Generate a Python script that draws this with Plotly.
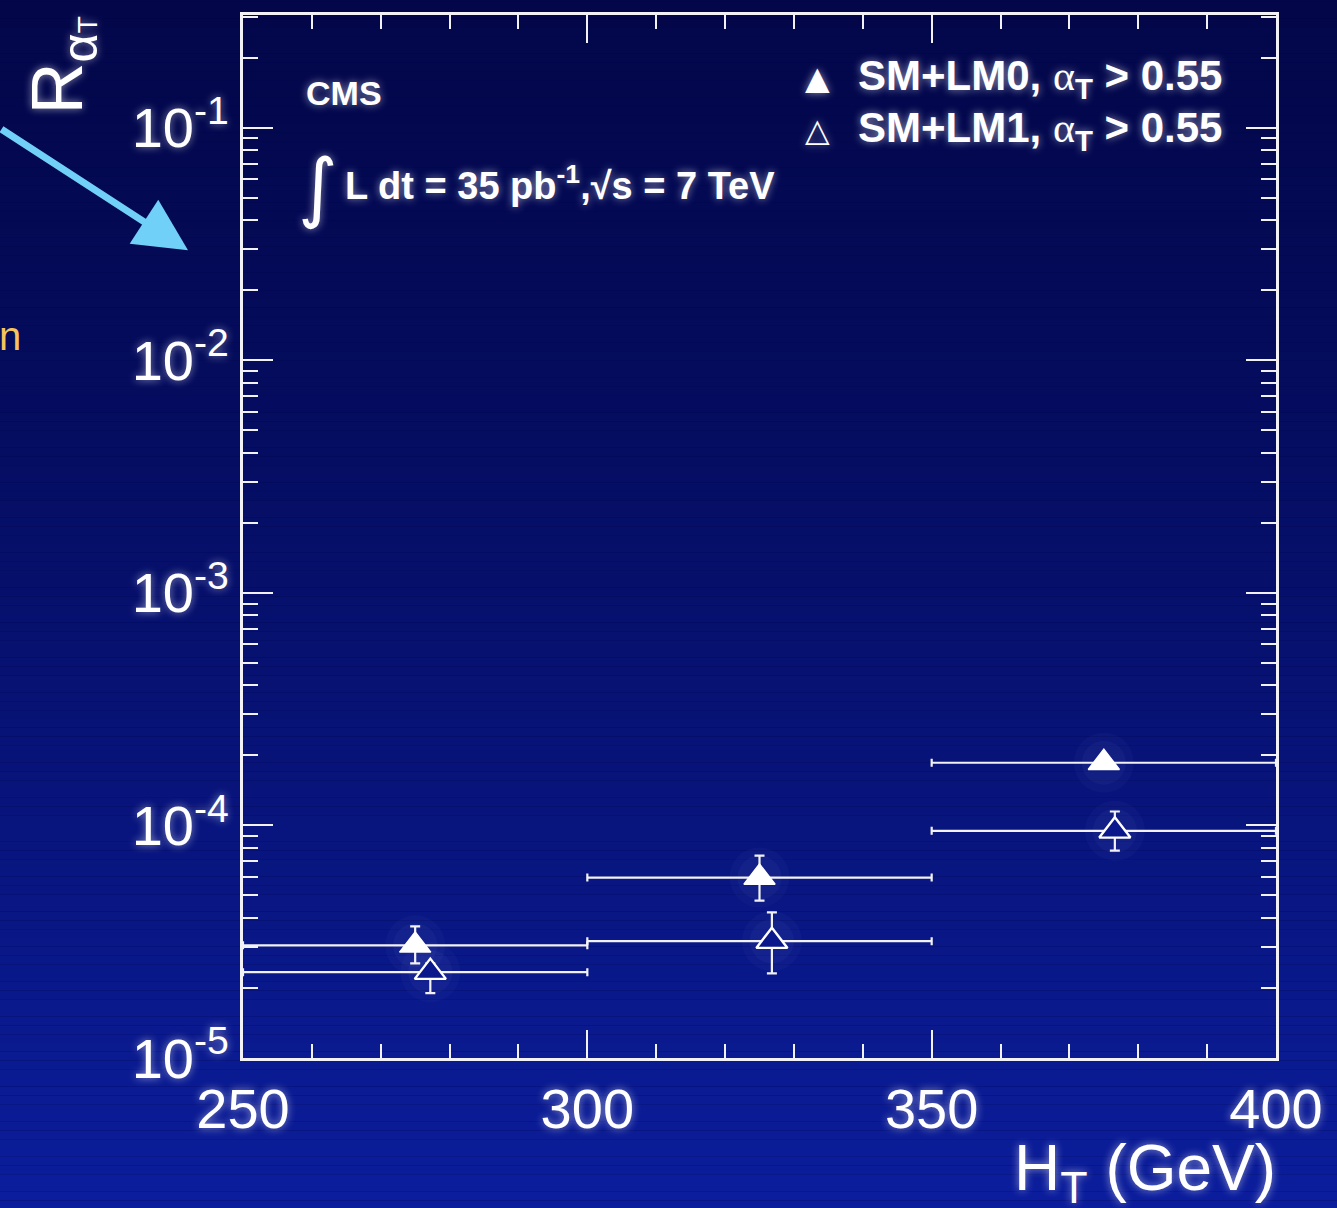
import numpy as np
import plotly.graph_objects as go

# H_T bins (GeV)
bin_lo = [250, 300, 350]
bin_hi = [300, 350, 400]

# SM+LM0, alpha_T > 0.55
lm0_x = [275.0, 325.0, 375.0]
lm0_y = [3.05e-5, 5.97e-5, 1.86e-4]
lm0_err_up = [0.63e-5, 1.44e-5, 0.10e-4]
lm0_err_dn = [0.50e-5, 1.22e-5, 0.10e-4]

# SM+LM1, alpha_T > 0.55 (drawn slightly shifted right)
lm1_x = [277.2, 326.8, 376.6]
lm1_y = [2.34e-5, 3.18e-5, 9.48e-5]
lm1_err_up = [0.21e-5, 1.05e-5, 2.00e-5]
lm1_err_dn = [0.44e-5, 0.87e-5, 1.68e-5]

y_tickvals = [1e-5, 1e-4, 1e-3, 1e-2, 1e-1]
y_ticktext = ["10<sup>-5</sup>", "10<sup>-4</sup>", "10<sup>-3</sup>",
              "10<sup>-2</sup>", "10<sup>-1</sup>"]
x_tickvals = [250, 300, 350, 400]
x_ticktext = ["250", "300", "350", "400"]

W, H = 1337, 1208
L, R, T, B = 243, 61, 12, 150
PW, PH = W - L - R, H - T - B

FONT = "Liberation Sans, Arial, Helvetica, sans-serif"
GLOW = "0px 0px 9px rgba(255,255,255,0.55)"
WHITE = "#f2f2f6"


def px(xp):
    return (xp - L) / PW


def py(yp):
    return (H - B - yp) / PH


def bin_err(xs):
    plus = [hi - x for x, hi in zip(xs, bin_hi)]
    minus = [x - lo for x, lo in zip(xs, bin_lo)]
    return plus, minus


fig = go.Figure()

# soft halo behind the points
for xs, ys in ((lm0_x, lm0_y), (lm1_x, lm1_y)):
    for size, alpha in ((60, 0.03), (44, 0.04)):
        fig.add_trace(go.Scatter(
            x=xs, y=ys, mode="markers", hoverinfo="skip", showlegend=False,
            marker=dict(size=size, color="rgba(190,200,255,%.2f)" % alpha,
                        line=dict(width=0)),
        ))

p0, m0 = bin_err(lm0_x)
fig.add_trace(go.Scatter(
    x=lm0_x, y=lm0_y, mode="markers", name="SM+LM0, α_T > 0.55", showlegend=False,
    marker=dict(symbol="triangle-up", size=27, color="white",
                line=dict(width=1.5, color="white")),
    error_x=dict(type="data", symmetric=False, array=p0, arrayminus=m0,
                 color=WHITE, thickness=2.2, width=4),
    error_y=dict(type="data", symmetric=False, array=lm0_err_up, arrayminus=lm0_err_dn,
                 color=WHITE, thickness=2.2, width=5),
))

p1, m1 = bin_err(lm1_x)
fig.add_trace(go.Scatter(
    x=lm1_x, y=lm1_y, mode="markers", name="SM+LM1, α_T > 0.55", showlegend=False,
    marker=dict(symbol="triangle-up", size=27, color="#0a188c",
                line=dict(width=2.4, color="white")),
    error_x=dict(type="data", symmetric=False, array=p1, arrayminus=m1,
                 color=WHITE, thickness=2.2, width=4),
    error_y=dict(type="data", symmetric=False, array=lm1_err_up, arrayminus=lm1_err_dn,
                 color=WHITE, thickness=2.2, width=5),
))

# vertical background gradient of the slide
shapes = []
n_bands = 140
top_c = np.array([3, 7, 74])
bot_c = np.array([12, 30, 158])
y_top, y_bot = py(0) + 0.01, py(H) - 0.01
for i in range(n_bands):
    t0 = i / n_bands
    t1 = (i + 1) / n_bands
    tm = ((t0 + t1) / 2) ** 1.25
    c = top_c + (bot_c - top_c) * tm
    shapes.append(dict(
        type="rect", xref="paper", yref="paper", layer="below",
        x0=-0.5, x1=1.5,
        y0=y_top + (y_bot - y_top) * t1, y1=y_top + (y_bot - y_top) * t0,
        fillcolor="rgb(%d,%d,%d)" % tuple(c.astype(int)), line=dict(width=0),
    ))

minor_y = [m * 10.0 ** k for k in range(-5, 0) for m in range(2, 10)]

annotations = [
    # y-axis title
    dict(text="R<sub>α<span style='font-size:28px'>T</span></sub>",
         xref="paper", yref="paper", x=px(14), y=py(12), textangle=-90,
         showarrow=False, font=dict(family=FONT, size=72, color="white", shadow=GLOW)),
    # x-axis title
    dict(text="H<sub>T</sub> (GeV)", xref="paper", yref="paper",
         x=px(1278), y=py(1172), xanchor="right", yanchor="middle", showarrow=False,
         font=dict(family=FONT, size=64, color="white", shadow=GLOW)),
    # experiment label
    dict(text="<b>CMS</b>", xref="paper", yref="paper", x=px(304), y=py(90),
         xanchor="left", yanchor="middle", showarrow=False,
         font=dict(family=FONT, size=34, color="white", shadow=GLOW)),
    dict(text="∫", xref="paper", yref="paper", x=px(296), y=py(184),
         xanchor="left", yanchor="middle", showarrow=False,
         font=dict(family="DejaVu Sans, sans-serif", size=76, color="white", shadow=GLOW)),
    dict(text="<b>L dt = 35 pb<sup>-1</sup>,√s = 7 TeV</b>", xref="paper", yref="paper",
         x=px(343), y=py(180), xanchor="left", yanchor="middle", showarrow=False,
         font=dict(family=FONT, size=38, color="white", shadow=GLOW)),
    # legend
    dict(text="▲", xref="paper", yref="paper", x=px(817), y=py(75),
         xanchor="center", yanchor="middle", showarrow=False,
         font=dict(family="DejaVu Sans, sans-serif", size=32, color="white", shadow=GLOW)),
    dict(text="△", xref="paper", yref="paper", x=px(817), y=py(127),
         xanchor="center", yanchor="middle", showarrow=False,
         font=dict(family="DejaVu Sans, sans-serif", size=32, color="white", shadow=GLOW)),
    dict(text="<b>SM+LM0, </b><span style='font-family:Liberation Serif'>α</span>"
              "<sub><b>T</b></sub><b> &gt; 0.55</b>",
         xref="paper", yref="paper", x=px(856), y=py(76), xanchor="left", yanchor="middle",
         showarrow=False, font=dict(family=FONT, size=42, color="white", shadow=GLOW)),
    dict(text="<b>SM+LM1, </b><span style='font-family:Liberation Serif'>α</span>"
              "<sub><b>T</b></sub><b> &gt; 0.55</b>",
         xref="paper", yref="paper", x=px(856), y=py(128), xanchor="left", yanchor="middle",
         showarrow=False, font=dict(family=FONT, size=42, color="white", shadow=GLOW)),
    # slide pointer arrow
    dict(text="", xref="paper", yref="paper", x=px(188), y=py(248),
         ax=-188, ay=-122, axref="pixel", ayref="pixel",
         showarrow=True, arrowhead=2, arrowsize=1.5, arrowwidth=7,
         arrowcolor="#70d0f8", standoff=0),
    dict(text="n", xref="paper", yref="paper", x=px(23), y=py(334),
         xanchor="right", yanchor="middle", showarrow=False,
         font=dict(family="Liberation Sans, sans-serif", size=40, color="#f7c35c")),
    dict(text="8", xref="paper", yref="paper", x=px(1272), y=py(1226),
         xanchor="center", yanchor="middle", showarrow=False,
         font=dict(family=FONT, size=40, color="white")),
]

axis_common = dict(
    showline=True, linecolor=WHITE, linewidth=3, mirror="allticks",
    ticks="inside", tickcolor=WHITE, tickwidth=2, showgrid=False, zeroline=False,
)

fig.update_layout(
    width=W, height=H,
    margin=dict(l=L, r=R, t=T, b=B),
    paper_bgcolor="rgb(3,7,74)",
    plot_bgcolor="rgba(0,0,0,0)",
    shapes=shapes,
    annotations=annotations,
    showlegend=False,
    xaxis=dict(
        range=[250, 400], tickvals=x_tickvals, ticktext=x_ticktext, ticklen=28,
        tickfont=dict(family=FONT, size=56, color="white", shadow=GLOW),
        minor=dict(dtick=10, ticks="inside", ticklen=14, tickcolor=WHITE, tickwidth=2,
                   showgrid=False),
        **axis_common,
    ),
    yaxis=dict(
        type="log", range=[-5, -0.515], tickvals=y_tickvals, ticktext=y_ticktext,
        ticklen=30,
        tickfont=dict(family=FONT, size=56, color="white", shadow=GLOW),
        minor=dict(tickvals=minor_y, ticks="inside", ticklen=15, tickcolor=WHITE,
                   tickwidth=2, showgrid=False),
        **axis_common,
    ),
)

fig.write_html("out.html")
